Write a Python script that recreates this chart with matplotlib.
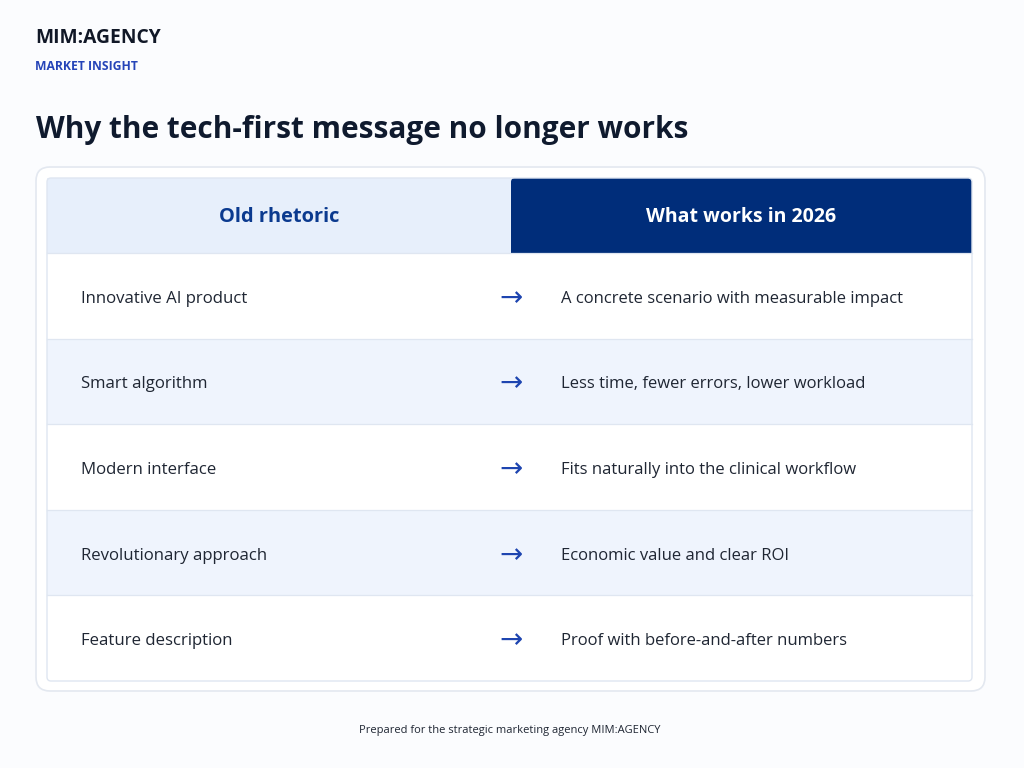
import matplotlib.pyplot as plt
from matplotlib.patches import FancyBboxPatch, Rectangle

plt.rcParams['font.family'] = ['Open Sans', 'DejaVu Sans']

# Content
brand = 'MIM:AGENCY'
kicker = 'MARKET INSIGHT'
title = 'Why the tech-first message no longer works'
headers = ['Old rhetoric', 'What works in 2026']
old_rhetoric = ['Innovative AI product', 'Smart algorithm', 'Modern interface',
                'Revolutionary approach', 'Feature description']
what_works = ['A concrete scenario with measurable impact',
              'Less time, fewer errors, lower workload',
              'Fits naturally into the clinical workflow',
              'Economic value and clear ROI',
              'Proof with before-and-after numbers']
footer = 'Prepared for the strategic marketing agency MIM:AGENCY'

W, H = 1024, 768
fig = plt.figure(figsize=(W / 100, H / 100), dpi=100)
fig.patch.set_facecolor('#fbfcfe')
ax = fig.add_axes([0, 0, 1, 1])
ax.set_xlim(0, W)
ax.set_ylim(H, 0)
ax.axis('off')

navy = '#002d7a'
dark = '#0f1a2e'

# header texts
ax.text(35, 38, brand, fontsize=13.9, fontweight='bold', color='#111827', va='center', ha='left')
ax.text(35, 67, kicker, fontsize=8.7, fontweight='bold', color='#2544b8', va='center', ha='left')
ax.text(36, 130, title, fontsize=21.4, fontweight='bold', color=dark, va='center', ha='left')

# outer card
card = FancyBboxPatch((36, 167), 949, 524, boxstyle='round,pad=0,rounding_size=14',
                      facecolor='white', edgecolor='#e3e8f0', linewidth=1.2)
ax.add_patch(card)

x0, x1, xm = 47, 972, 511
y_head0, y_head1 = 178, 253
row_h = (681 - y_head1) / len(old_rhetoric)

ax.add_patch(Rectangle((x0, y_head0), xm - x0, y_head1 - y_head0, facecolor='#e7effb', edgecolor='none'))
ax.add_patch(FancyBboxPatch((xm, y_head0), x1 - xm, y_head1 - y_head0,
                            boxstyle='round,pad=0,rounding_size=4', facecolor=navy, edgecolor='none'))
ax.add_patch(Rectangle((xm, y_head0 + 10), x1 - xm, y_head1 - y_head0 - 10, facecolor=navy, edgecolor='none'))
ax.text((x0 + xm) / 2, (y_head0 + y_head1) / 2 + 1, headers[0], fontsize=14.4, fontweight='bold',
        color='#0b3a8f', ha='center', va='center')
ax.text((xm + x1) / 2, (y_head0 + y_head1) / 2 + 1, headers[1], fontsize=14.0, fontweight='bold',
        color='white', ha='center', va='center')

for i, (old, new) in enumerate(zip(old_rhetoric, what_works)):
    top = y_head1 + i * row_h
    fc = '#eff4fd' if i % 2 == 1 else 'white'
    ax.add_patch(Rectangle((x0, top), x1 - x0, row_h, facecolor=fc, edgecolor='none'))
    ax.plot([x0, x1], [top, top], color='#dfe6f1', linewidth=0.9)
    yc = top + row_h / 2 + 3
    ax.text(81, yc, old, fontsize=12.1, color='#1f2633', ha='left', va='center')
    ax.text(511, yc - 1, '\u2192', fontsize=20, color='#1e45b0', ha='center', va='center',
            family='DejaVu Sans')
    ax.text(561, yc, new, fontsize=12.0, color='#1f2633', ha='left', va='center')

# table frame
ax.add_patch(FancyBboxPatch((x0, y_head0), x1 - x0, 681 - y_head0,
                            boxstyle='round,pad=0,rounding_size=4', facecolor='none',
                            edgecolor='#dfe6f1', linewidth=1.0))

ax.text(510, 731, footer, fontsize=8.0, color='#1f2633', ha='center', va='center')

fig.savefig('out.png', dpi=100, facecolor=fig.get_facecolor())
